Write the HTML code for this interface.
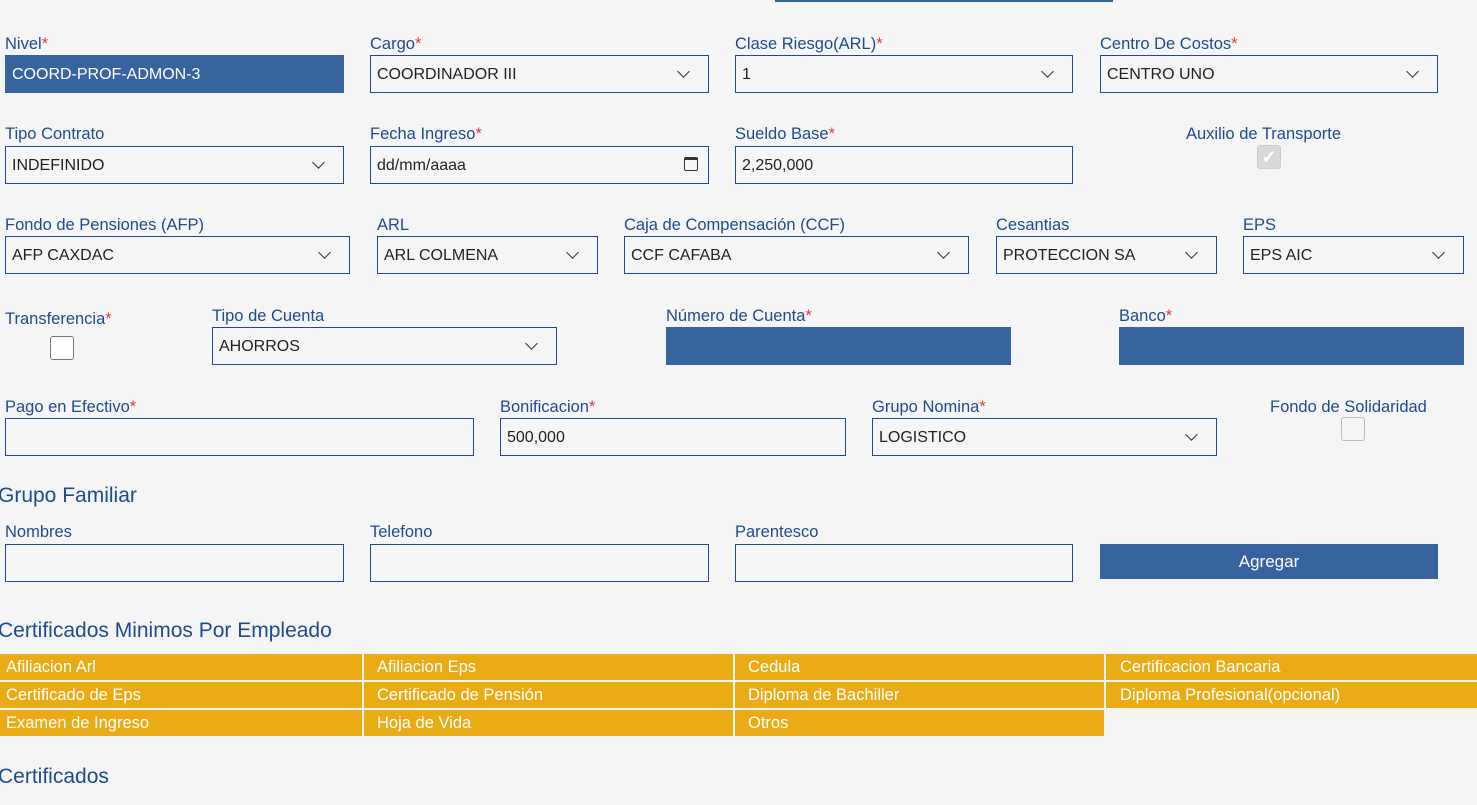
<!DOCTYPE html>
<html><head><meta charset="utf-8"><style>
*{box-sizing:border-box;margin:0;padding:0}
body{width:1477px;height:805px;background:#f5f5f5;position:relative;overflow:hidden;font-family:"Liberation Sans",sans-serif}
.l{position:absolute;color:#1f4b8e;font-size:16.5px;line-height:20px;white-space:nowrap;margin-top:1px}
.l b{color:#e03a3a;font-weight:normal}
.i{position:absolute;height:38px;border:1.5px solid #1f4b8e;background:#f5f5f5;color:#222;font-size:16px;line-height:37px;padding-left:6px;white-space:nowrap}
.f{background:#37649e;border-color:#37649e;color:#fff}
.s::after{content:"";position:absolute;right:20px;top:11px;width:8px;height:8px;border-right:1.8px solid #333;border-bottom:1.8px solid #333;transform:rotate(45deg)}
.cb{position:absolute;width:24px;height:24px;border:1.3px solid #777;border-radius:3px;background:#fff}
.h{position:absolute;color:#1f4b8e;font-size:21px;left:-2px;white-space:nowrap}
.c{position:absolute;height:26px;background:#eaab14;color:#fff;font-size:16.5px;line-height:27px;padding-left:6px;white-space:nowrap}
</style></head><body>
<div style="position:absolute;left:775px;top:0;width:338px;height:2px;background:#37649e"></div>

<div class="l" style="left:5px;top:33px">Nivel<b>*</b></div>
<div class="i f" style="left:5px;top:55px;width:339px">COORD-PROF-ADMON-3</div>
<div class="l" style="left:370px;top:33px">Cargo<b>*</b></div>
<div class="i s" style="left:370px;top:55px;width:339px">COORDINADOR III</div>
<div class="l" style="left:735px;top:33px">Clase Riesgo(ARL)<b>*</b></div>
<div class="i s" style="left:735px;top:55px;width:338px">1</div>
<div class="l" style="left:1100px;top:33px">Centro De Costos<b>*</b></div>
<div class="i s" style="left:1100px;top:55px;width:338px">CENTRO UNO</div>

<div class="l" style="left:5px;top:123px">Tipo Contrato</div>
<div class="i s" style="left:5px;top:146px;width:339px">INDEFINIDO</div>
<div class="l" style="left:370px;top:123px">Fecha Ingreso<b>*</b></div>
<div class="i" style="left:370px;top:146px;width:339px">dd/mm/aaaa<span style="position:absolute;right:10px;top:10px;width:14px;height:14px;border:1.5px solid #333;border-radius:2px;border-top-width:3px"></span></div>
<div class="l" style="left:735px;top:123px">Sueldo Base<b>*</b></div>
<div class="i" style="left:735px;top:146px;width:338px">2,250,000</div>
<div class="l" style="left:1186px;top:123px">Auxilio de Transporte</div>
<div class="cb" style="left:1257px;top:145px;background:#d8d8d8;border-color:#ccc;color:#fff;font-size:18px;line-height:22px;text-align:center;font-weight:bold">✓</div>

<div class="l" style="left:5px;top:214px">Fondo de Pensiones (AFP)</div>
<div class="i s" style="left:5px;top:236px;width:345px">AFP CAXDAC</div>
<div class="l" style="left:377px;top:214px">ARL</div>
<div class="i s" style="left:377px;top:236px;width:221px">ARL COLMENA</div>
<div class="l" style="left:624px;top:214px">Caja de Compensación (CCF)</div>
<div class="i s" style="left:624px;top:236px;width:345px">CCF CAFABA</div>
<div class="l" style="left:996px;top:214px">Cesantias</div>
<div class="i s" style="left:996px;top:236px;width:221px">PROTECCION SA</div>
<div class="l" style="left:1243px;top:214px">EPS</div>
<div class="i s" style="left:1243px;top:236px;width:221px">EPS AIC</div>

<div class="l" style="left:5px;top:308px">Transferencia<b>*</b></div>
<div class="cb" style="left:50px;top:336px"></div>
<div class="l" style="left:212px;top:305px">Tipo de Cuenta</div>
<div class="i s" style="left:212px;top:327px;width:345px">AHORROS</div>
<div class="l" style="left:666px;top:305px">Número de Cuenta<b>*</b></div>
<div class="i f" style="left:666px;top:327px;width:345px"></div>
<div class="l" style="left:1119px;top:305px">Banco<b>*</b></div>
<div class="i f" style="left:1119px;top:327px;width:345px"></div>

<div class="l" style="left:5px;top:396px">Pago en Efectivo<b>*</b></div>
<div class="i" style="left:5px;top:418px;width:469px"></div>
<div class="l" style="left:500px;top:396px">Bonificacion<b>*</b></div>
<div class="i" style="left:500px;top:418px;width:346px">500,000</div>
<div class="l" style="left:872px;top:396px">Grupo Nomina<b>*</b></div>
<div class="i s" style="left:872px;top:418px;width:345px">LOGISTICO</div>
<div class="l" style="left:1270px;top:396px">Fondo de Solidaridad</div>
<div class="cb" style="left:1341px;top:417px;border-color:#bbb;background:#f5f5f5"></div>

<div class="h" style="top:484px">Grupo Familiar</div>
<div class="l" style="left:5px;top:521px">Nombres</div>
<div class="i" style="left:5px;top:544px;width:339px"></div>
<div class="l" style="left:370px;top:521px">Telefono</div>
<div class="i" style="left:370px;top:544px;width:339px"></div>
<div class="l" style="left:735px;top:521px">Parentesco</div>
<div class="i" style="left:735px;top:544px;width:338px"></div>
<div style="position:absolute;left:1100px;top:544px;width:338px;height:35px;background:#37649e;color:#fff;font-size:17px;line-height:36px;text-align:center">Agregar</div>

<div class="h" style="top:619px">Certificados Minimos Por Empleado</div>
<div class="c" style="left:0;top:654px;width:362px">Afiliacion Arl</div>
<div class="c" style="left:364px;top:654px;width:369px;padding-left:13px">Afiliacion Eps</div>
<div class="c" style="left:735px;top:654px;width:369px;padding-left:13px">Cedula</div>
<div class="c" style="left:1106px;top:654px;width:371px;padding-left:14px">Certificacion Bancaria</div>
<div class="c" style="left:0;top:682px;width:362px">Certificado de Eps</div>
<div class="c" style="left:364px;top:682px;width:369px;padding-left:13px">Certificado de Pensión</div>
<div class="c" style="left:735px;top:682px;width:369px;padding-left:13px">Diploma de Bachiller</div>
<div class="c" style="left:1106px;top:682px;width:371px;padding-left:14px">Diploma Profesional(opcional)</div>
<div class="c" style="left:0;top:710px;width:362px">Examen de Ingreso</div>
<div class="c" style="left:364px;top:710px;width:369px;padding-left:13px">Hoja de Vida</div>
<div class="c" style="left:735px;top:710px;width:369px;padding-left:13px">Otros</div>

<div class="h" style="top:765px">Certificados</div>
</body></html>
